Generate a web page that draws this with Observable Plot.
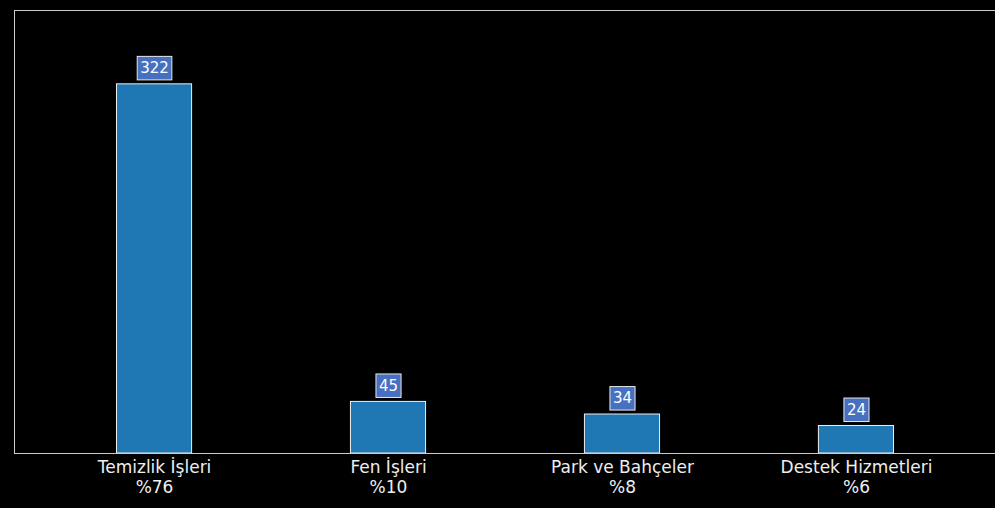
<!DOCTYPE html>
<html>
<head>
<meta charset="utf-8">
<script src="https://cdn.jsdelivr.net/npm/d3@7"></script>
<script src="https://cdn.jsdelivr.net/npm/@observablehq/plot@0.6"></script>
<style>
  html, body { margin: 0; padding: 0; background: #000; overflow: hidden; }
  #chart svg { display: block; background: #000; }
</style>
</head>
<body>
<div id="chart"></div>
<script>
const categories = ["Temizlik İşleri", "Fen İşleri", "Park ve Bahçeler", "Destek Hizmetleri"];
const counts = [322, 45, 34, 24];
const percents = [76, 10, 8, 6];

const data = categories.map((c, i) => ({category: c, count: counts[i], pct: percents[i]}));
const yMax = d3.max(counts) * 1.2;

const plot = Plot.plot({
  width: 995,
  height: 508,
  marginLeft: 14,
  marginTop: 10,
  marginBottom: 55,
  marginRight: -1,
  style: {background: "#000", fontFamily: "DejaVu Sans, sans-serif", color: "#eee"},
  x: {type: "band", domain: categories, range: [14, 996], round: false, paddingInner: 0.679, paddingOuter: 0.438, axis: null},
  y: {domain: [0, yMax], axis: null},
  marks: [
    Plot.barY(data, {x: "category", y: "count", fill: "#1f77b4", stroke: "#f0f0f0", strokeWidth: 1}),
    Plot.frame({stroke: "#cccccc", strokeWidth: 1}),
    Plot.text(data, {
      x: "category", y: "count", text: d => String(d.count),
      dy: -16, fontSize: 15, fill: "#ffffff", ariaDescription: "value-labels"
    }),
    Plot.text(data, {
      x: "category", y: () => 0, text: d => `${d.category}\n%${d.pct}`,
      lineAnchor: "top", dy: 5, fontSize: 17, lineHeight: 1.17, fill: "#eeeeee"
    })
  ]
});

document.getElementById("chart").appendChild(plot);

// add boxes behind value labels
const svgNS = "http://www.w3.org/2000/svg";
plot.querySelectorAll('g[aria-description="value-labels"] text').forEach(t => {
  const b = t.getBBox();
  const r = document.createElementNS(svgNS, "rect");
  const padX = 3, padY = 2.75;
  r.setAttribute("x", b.x - padX);
  r.setAttribute("y", b.y - padY);
  r.setAttribute("width", b.width + 2 * padX);
  r.setAttribute("height", b.height + 2 * padY);
  r.setAttribute("fill", "#4870c0");
  r.setAttribute("stroke", "#e8e8e8");
  r.setAttribute("stroke-width", 1);
  if (t.getAttribute("transform")) r.setAttribute("transform", t.getAttribute("transform"));
  t.parentNode.insertBefore(r, t);
});
</script>
</body>
</html>
